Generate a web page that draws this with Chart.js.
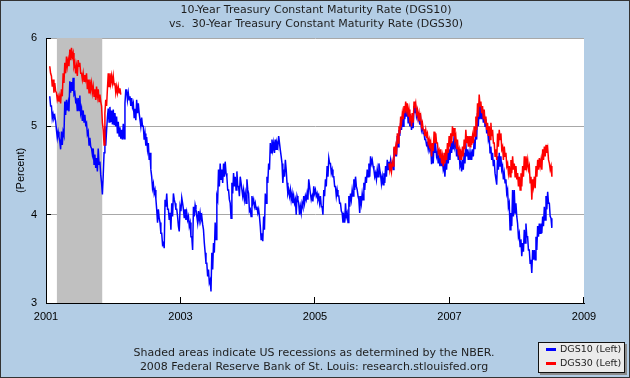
<!DOCTYPE html>
<html><head><meta charset="utf-8">
<script src="https://cdn.jsdelivr.net/npm/chart.js@4.4.1/dist/chart.umd.min.js"></script>
<style>
html,body{margin:0;padding:0;background:#b3cde5;}
#wrap{position:relative;width:630px;height:378px;background:#b3cde5;overflow:hidden;}
#c{position:absolute;left:0;top:0;}
.txt{position:absolute;text-align:center;font-family:'DejaVu Sans';font-size:11px;line-height:13px;color:#1e1e1e;white-space:pre;}
#frame{position:absolute;left:0;top:0;width:628px;height:376px;border:1px solid #333;pointer-events:none;}
#legend{position:absolute;left:538px;top:342px;width:85px;height:29px;background:#ebebeb;border:1px solid #111;box-shadow:2px 2px 0 #8a8a8a;font-family:'DejaVu Sans';font-size:9.5px;color:#222;}
.row{position:absolute;left:0;width:85px;height:12px;line-height:12px;}
.sw{position:absolute;left:7px;top:5px;width:10px;height:3px;}
.lab{position:absolute;left:21px;top:0;white-space:nowrap;}
</style></head>
<body>
<div id="wrap">
<canvas id="c" width="630" height="378"></canvas>
<div class="txt" style="left:1px;width:630px;top:3px;">10-Year Treasury Constant Maturity Rate (DGS10)</div>
<div class="txt" style="left:1px;width:630px;top:17px;">vs.  30-Year Treasury Constant Maturity Rate (DGS30)</div>
<div class="txt" style="left:0;width:628px;top:346px;">Shaded areas indicate US recessions as determined by the NBER.</div>
<div class="txt" style="left:0;width:628px;top:360px;">2008 Federal Reserve Bank of St. Louis: research.stlouisfed.org</div>
<div id="legend">
  <div class="row" style="top:0px;"><div class="sw" style="background:#0000ff"></div><div class="lab">DGS10 (Left)</div></div>
  <div class="row" style="top:13.5px;"><div class="sw" style="background:#ff0000"></div><div class="lab">DGS30 (Left)</div></div>
</div>
<div id="frame"></div>
</div>
<script>
const firstObsYear = 2001.056;   // first plotted observation (decimal year)
const obsPerYear = 80.5;          // observation spacing
const dgs30ResumeYear = 2006.10;  // DGS30 series resumes (Feb 2006)
const xTickYears = [2001, 2003, 2005, 2007, 2009];
const yTickValues = [3, 4, 5, 6];
const recessions = [[2001.162, 2001.836]]; // Mar 2001 - Nov 2001

const dgs10 = [
5.34,5.23, 5.23,5.09, 5.14,5.09, 5.12,5.06, 4.96,4.87, 4.94,4.88, 4.83,4.74, 4.94,4.79, 4.94,4.90, 5.28,5.13,
5.30,5.18, 5.26,5.17, 5.51,5.38, 5.50,5.40, 5.55,5.36, 5.38,5.28, 5.30,5.17, 5.32,5.18, 5.35,5.15, 5.20,5.06,
5.18,5.05, 5.13,5.02, 5.04,4.91, 4.94,4.79, 4.87,4.77, 4.75,4.68, 4.75,4.57, 4.68,4.53, 4.64,4.49, 4.75,4.57,
4.60,4.45, 4.36,4.23, 4.45,4.70, 5.00,4.78, 4.95,5.10, 5.20,5.05, 5.22,5.05, 5.18,5.02, 5.19,5.02, 5.15,5.00,
5.11,4.92, 5.05,4.89, 4.99,4.86, 4.96,4.85, 5.03,4.86, 5.26,5.41, 5.41,5.30, 5.38,5.30, 5.34,5.23, 5.32,5.22,
5.26,5.10, 5.20,5.07, 5.30,5.15, 5.26,5.15, 5.15,5.00, 5.10,5.00, 5.00,4.85, 4.92,4.78, 4.88,4.74, 4.81,4.62,
4.70,4.51, 4.43,4.30, 4.35,4.24, 4.28,4.18, 4.06,3.91, 4.06,3.96, 3.91,3.79, 3.79,3.66, 3.68,3.62, 4.17,4.09,
4.24,4.06, 4.06,3.94, 4.02,3.83, 4.13,3.98, 4.24,4.17, 4.13,4.06, 4.06,3.98, 3.87,3.81, 4.09,4.04, 4.19,4.13,
4.06,3.96, 4.06,3.94, 4.02,3.94, 3.98,3.87, 3.91,3.75, 3.75,3.60, 4.09,3.98, 4.11,4.06, 3.98,3.91, 4.04,3.94,
4.02,3.94, 3.98,3.89, 3.83,3.68, 3.57,3.45, 3.45,3.30, 3.38,3.23, 3.26,3.13, 3.57,3.38, 3.68,3.57, 3.91,3.72,
4.21,4.17, 4.51,4.32, 4.58,4.40, 4.51,4.36, 4.58,4.43, 4.60,4.47, 4.43,4.28, 4.28,4.17, 4.13,3.96, 4.36,4.24,
4.47,4.32, 4.43,4.28, 4.49,4.32, 4.32,4.21, 4.43,4.36, 4.36,4.21, 4.28,4.17, 4.24,4.13, 4.40,4.28, 4.24,4.04,
4.06,3.98, 4.21,4.13, 4.17,4.09, 4.13,4.06, 4.09,4.02, 4.06,3.98, 3.87,3.72, 3.79,3.70, 3.98,3.83, 4.24,4.13,
4.43,4.36, 4.58,4.51, 4.81,4.70, 4.85,4.74, 4.81,4.70, 4.85,4.74, 4.81,4.77, 4.89,4.81, 4.73,4.66, 4.58,4.36,
4.51,4.43, 4.62,4.51, 4.36,4.24, 4.28,4.21, 4.28,4.17, 4.24,4.13, 4.21,4.13, 4.17,4.00, 4.21,4.17, 4.13,4.00,
4.09,4.02, 4.13,4.09, 4.21,4.13, 4.21,4.17, 4.24,4.17, 4.40,4.32, 4.24,4.17, 4.21,4.15, 4.32,4.24, 4.28,4.21,
4.24,4.17, 4.21,4.13, 4.21,4.09, 4.09,4.00, 4.28,4.21, 4.40,4.32, 4.55,4.43, 4.64,4.58, 4.58,4.47, 4.51,4.43,
4.43,4.32, 4.32,4.21, 4.28,4.21, 4.21,4.13, 4.13,4.04, 4.02,3.91, 3.98,3.91, 4.13,3.98, 4.02,3.91, 4.21,4.09,
4.24,4.17, 4.28,4.21, 4.40,4.28, 4.43,4.32, 4.28,4.21, 4.17,4.02, 4.21,4.13, 4.24,4.17, 4.36,4.28, 4.43,4.36,
4.51,4.43, 4.58,4.43, 4.66,4.58, 4.62,4.55, 4.51,4.43, 4.47,4.40, 4.51,4.43, 4.58,4.51, 4.45,4.35, 4.43,4.34,
4.47,4.36, 4.55,4.43, 4.62,4.51, 4.60,4.55, 4.62,4.55, 4.58,4.51, 4.75,4.66, 4.77,4.66, 4.89,4.77, 4.96,4.89,
5.04,4.96, 5.11,5.00, 5.19,5.08, 5.23,5.11, 5.19,5.04, 5.15,5.00, 5.08,4.96, 5.04,4.98, 5.23,5.15, 5.21,5.11,
5.15,5.08, 5.11,5.02, 5.08,4.96, 5.00,4.92, 4.92,4.85, 4.85,4.79, 4.81,4.74, 4.81,4.74, 4.77,4.57, 4.74,4.58,
4.81,4.70, 4.77,4.66, 4.70,4.58, 4.66,4.55, 4.70,4.55, 4.62,4.51, 4.55,4.43, 4.62,4.51, 4.70,4.58, 4.74,4.62,
4.81,4.70, 4.83,4.74, 4.89,4.77, 4.81,4.66, 4.77,4.62, 4.70,4.55, 4.58,4.49, 4.62,4.51, 4.70,4.58, 4.81,4.66,
4.74,4.62, 4.70,4.62, 4.70,4.62, 4.74,4.66, 4.85,4.74, 5.00,4.85, 5.15,5.00, 5.26,5.08, 5.23,5.08, 5.19,5.04,
5.15,5.00, 5.08,4.92, 5.00,4.85, 4.89,4.70, 4.77,4.62, 4.70,4.55, 4.62,4.47, 4.47,4.34, 4.66,4.51, 4.70,4.55,
4.66,4.51, 4.55,4.40, 4.47,4.36, 4.40,4.24, 4.28,4.09, 4.13,3.83, 4.02,3.87, 4.28,3.98, 4.28,4.02, 4.13,3.98,
3.90,3.75, 3.79,3.64, 3.72,3.53, 3.68,3.58, 3.83,3.68, 3.90,3.75, 3.75,3.60, 3.60,3.45, 3.49,3.34, 3.60,3.49,
3.60,3.49, 3.75,3.60, 3.87,3.75, 3.90,3.79, 3.90,3.79, 3.98,3.87, 4.09,3.94, 4.21,4.06, 4.26,4.13, 4.13,3.98,
3.96,3.85
];

const dgs30Early = [
5.68,5.60, 5.57,5.45, 5.53,5.38, 5.49,5.40, 5.38,5.30, 5.34,5.28, 5.34,5.26, 5.42,5.34, 5.60,5.49, 5.72,5.60,
5.79,5.68, 5.75,5.68, 5.87,5.75, 5.89,5.79, 5.83,5.68, 5.72,5.60, 5.68,5.57, 5.75,5.68, 5.72,5.60, 5.60,5.53,
5.60,5.51, 5.58,5.53, 5.60,5.42, 5.53,5.38, 5.53,5.42, 5.49,5.38, 5.45,5.34, 5.42,5.30, 5.45,5.34, 5.42,5.28,
5.36,5.28, 5.23,5.04, 4.96,4.79, 5.15,5.30, 5.23,5.42, 5.60,5.45, 5.60,5.49, 5.57,5.49, 5.57,5.47, 5.49,5.38,
5.45,5.38, 5.45,5.38, 5.43,5.36
];

const dgs30Late = [
4.58,4.50, 4.56,4.49, 4.60,4.55, 4.77,4.70, 4.77,4.68, 4.92,4.81, 5.00,4.92, 5.11,5.04, 5.15,5.08, 5.23,5.15,
5.28,5.19, 5.26,5.11, 5.19,5.08, 5.11,5.00, 5.15,5.04, 5.28,5.21, 5.26,5.15, 5.19,5.09, 5.15,5.06, 5.11,5.00,
5.04,4.96, 4.96,4.89, 4.96,4.89, 4.92,4.81, 4.85,4.75, 4.81,4.66, 4.81,4.72, 4.94,4.81, 4.92,4.81, 4.81,4.70,
4.73,4.64, 4.74,4.58, 4.66,4.55, 4.70,4.58, 4.74,4.62, 4.81,4.70, 4.89,4.77, 4.92,4.81, 5.00,4.89, 4.98,4.85,
4.89,4.74, 4.85,4.70, 4.74,4.62, 4.70,4.62, 4.77,4.66, 4.85,4.74, 4.96,4.81, 4.89,4.77, 4.89,4.77, 4.89,4.79,
4.89,4.81, 5.00,4.89, 5.11,4.96, 5.26,5.11, 5.36,5.23, 5.28,5.15, 5.23,5.08, 5.19,5.04, 5.11,4.96, 5.04,4.89,
5.00,4.85, 5.04,4.89, 4.96,4.81, 4.81,4.66, 4.74,4.62, 4.92,4.77, 4.96,4.85, 4.92,4.74, 4.77,4.62, 4.77,4.66,
4.70,4.55, 4.58,4.47, 4.55,4.43, 4.62,4.47, 4.66,4.51, 4.58,4.43, 4.55,4.40, 4.47,4.32, 4.43,4.28, 4.47,4.32,
4.55,4.43, 4.66,4.51, 4.66,4.55, 4.62,4.51, 4.55,4.36, 4.43,4.17, 4.40,4.32, 4.43,4.30, 4.55,4.43, 4.62,4.51,
4.64,4.55, 4.62,4.51, 4.74,4.62, 4.77,4.66, 4.79,4.70, 4.75,4.62, 4.58,4.51, 4.55,4.43
];

// ---- build point tables ----
const dgs10Points = dgs10.map((v, i) => ({x: firstObsYear + i / obsPerYear, y: v}));
const dgs30Points = dgs30Early.map((v, i) => ({x: firstObsYear + i / obsPerYear, y: v}));
dgs30Points.push({x: (dgs30Points[dgs30Points.length - 1].x + dgs30ResumeYear) / 2, y: null});
dgs30Late.forEach((v, i) => dgs30Points.push({x: dgs30ResumeYear + i / obsPerYear, y: v}));

const plotDecor = {
  id: 'plotDecor',
  beforeDraw(chart) {
    const {ctx, chartArea: a} = chart;
    ctx.save();
    ctx.fillStyle = '#ffffff';
    ctx.fillRect(a.left, a.top, a.right - a.left, a.bottom - a.top);
    ctx.restore();
  },
  beforeDatasetsDraw(chart) {
    const {ctx, chartArea: a, scales: {x}} = chart;
    ctx.save();
    ctx.fillStyle = '#c0c0c0';
    recessions.forEach(([s, e]) => {
      const x1 = x.getPixelForValue(s), x2 = x.getPixelForValue(e);
      ctx.fillRect(x1, a.top, x2 - x1, a.bottom - a.top);
    });
    ctx.restore();
  },
  afterDraw(chart) {
    const {ctx, chartArea: a, scales: {x, y}} = chart;
    ctx.save();
    ctx.strokeStyle = '#000';
    ctx.lineWidth = 1;
    ctx.beginPath();
    yTickValues.forEach(v => {
      if (v === yTickValues[0]) return;
      const py = Math.floor(y.getPixelForValue(v)) + 0.5;
      ctx.moveTo(a.left, py); ctx.lineTo(a.left + 5, py);
    });
    xTickYears.forEach(v => {
      if (v === xTickYears[0]) return;
      const px = Math.floor(x.getPixelForValue(v) - 0.5) + 0.5;
      ctx.moveTo(px, a.bottom); ctx.lineTo(px, a.bottom - 6);
    });
    ctx.stroke();
    ctx.restore();
  }
};

const tickFont = {family: 'Liberation Sans', size: 11};
new Chart(document.getElementById('c'), {
  type: 'line',
  data: {
    datasets: [
      {label: 'DGS10 (Left)', data: dgs10Points, borderColor: '#0000ff', borderWidth: 1.5, pointRadius: 0, tension: 0, order: 2},
      {label: 'DGS30 (Left)', data: dgs30Points, borderColor: '#ff0000', borderWidth: 1.5, pointRadius: 0, tension: 0, spanGaps: false, order: 1}
    ]
  },
  options: {
    responsive: false, animation: false, devicePixelRatio: 1,
    layout: {padding: {left: 0, right: 46, top: 38, bottom: 0}},
    plugins: {legend: {display: false}, tooltip: {enabled: false}, title: {display: false}},
    scales: {
      x: {
        type: 'linear', min: 2001, max: 2009,
        afterBuildTicks: s => { s.ticks = xTickYears.map(v => ({value: v})); },
        afterFit: s => { s.height = 75; },
        grid: {display: true, color: 'rgba(0,0,0,0)', drawTicks: false},
        border: {display: true, color: '#000', width: 1},
        ticks: {font: tickFont, color: '#000', padding: 7, maxRotation: 0, autoSkip: false, callback: v => String(v)}
      },
      y: {
        min: 3, max: 6,
        afterBuildTicks: s => { s.ticks = yTickValues.map(v => ({value: v})); },
        afterFit: s => { s.width = 46; },
        grid: {color: '#a8a8a8', drawTicks: false, lineWidth: 1},
        border: {display: true, color: '#000', width: 1},
        ticks: {font: tickFont, color: '#000', padding: 9, callback: v => String(v)},
        title: {display: true, text: '(Percent)', font: tickFont, color: '#000', padding: {top: 14, bottom: 0}}
      }
    }
  },
  plugins: [plotDecor]
});
</script>
</body></html>
